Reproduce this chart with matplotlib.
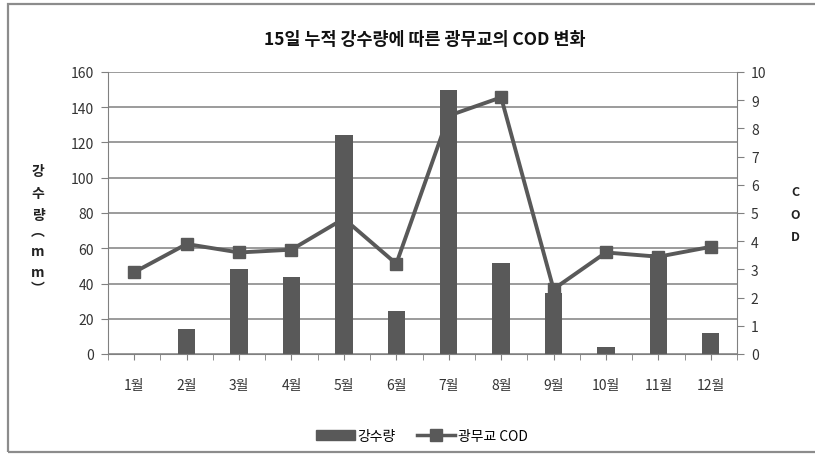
import matplotlib
matplotlib.use("Agg")
import matplotlib.pyplot as plt
from matplotlib.lines import Line2D
from matplotlib.patches import Rectangle
import numpy as np

plt.rcParams['font.family'] = ['Noto Sans CJK KR', 'DejaVu Sans']

months = ['1월', '2월', '3월', '4월', '5월', '6월', '7월', '8월', '9월', '10월', '11월', '12월']
rain = [0, 14, 48, 43.5, 124, 24.5, 150, 51.5, 34.5, 4, 57, 12]
cod = [2.9, 3.9, 3.6, 3.7, 4.8, 3.2, 8.45, 9.1, 2.3, 3.6, 3.45, 3.8]
left_ticks = [0, 20, 40, 60, 80, 100, 120, 140, 160]
right_ticks = list(range(0, 11))
title = '15일 누적 강수량에 따른 광무교의 COD 변화'

W, H = 815, 456
fig = plt.figure(figsize=(W / 100, H / 100), dpi=100)

# outer frame
fig.patches.append(Rectangle((8 / W, 3 / H), (W + 10) / W, (H - 8) / H, transform=fig.transFigure,
                             fill=False, edgecolor='#8c8c8c', linewidth=1.6))

ax = fig.add_axes([108 / W, 1 - 355 / H, (737 - 108) / W, (355 - 73) / H])
x = np.arange(len(months))
barcol = '#595959'
tickcol = '#333333'
ax.bar(x, rain, width=0.33, color=barcol, zorder=2)
ax.set_xlim(-0.5, len(months) - 0.5)
ax.set_ylim(0, 160)
ax.set_yticks(left_ticks)
ax.set_yticklabels([str(t) for t in left_ticks], fontsize=10, color=tickcol)
ax.yaxis.grid(True, color='#808080', linewidth=1.1, zorder=0)
ax.set_axisbelow(True)
for s in ['top', 'right']:
    ax.spines[s].set_visible(False)
ax.spines['left'].set_color('#808080')
ax.spines['bottom'].set_color('#808080')
ax.tick_params(axis='y', direction='out', length=5, color='#808080', pad=5)

# x ticks: both category centers and boundaries
ax.set_xticks(x)
ax.set_xticklabels(months, fontsize=10, color=tickcol)
ax.set_xticks(np.arange(-0.5, len(months), 1.0), minor=True)
ax.tick_params(axis='x', which='major', direction='out', length=4, color='#808080', pad=13)
ax.tick_params(axis='x', which='minor', direction='out', length=4, color='#808080')

ax2 = ax.twinx()
ax2.plot(x, cod, color=barcol, linewidth=2.8, marker='s', markersize=8.5, zorder=3)
ax2.set_ylim(0, 10)
ax2.set_yticks(right_ticks)
ax2.set_yticklabels([str(t) for t in right_ticks], fontsize=10, color=tickcol)
for s in ['top', 'left', 'bottom']:
    ax2.spines[s].set_visible(False)
ax2.spines['right'].set_color('#808080')
ax2.tick_params(axis='y', direction='out', length=5, color='#808080', pad=5)

fig.text(425 / W, 1 - 40 / H, title, ha='center', va='center', fontsize=12.5, fontweight='bold', color='#111111')

# left axis label (vertical stacked)
lbl = ['강', '수', '량', '︵', 'm', 'm', '︶']
ys = [172, 194, 216, 232, 252, 273, 289]
for ch, yy in zip(lbl, ys):
    fig.text(38 / W, 1 - yy / H, ch, ha='center', va='center', fontsize=10, fontweight='bold', color='#222222')

for ch, yy in zip(['C', 'O', 'D'], [193, 216, 238]):
    fig.text(795 / W, 1 - yy / H, ch, ha='center', va='center', fontsize=9, fontweight='bold', color='#222222')

handles = [Rectangle((0, 0), 1, 1, color=barcol),
           Line2D([0], [0], color=barcol, linewidth=2.5, marker='s', markersize=8)]
fig.legend(handles, ['강수량', '광무교 COD'], loc='center', bbox_to_anchor=(422 / W, 1 - 437 / H),
           ncol=2, frameon=False, fontsize=10, handlelength=2.8, columnspacing=1.5, handletextpad=0.2)

fig.savefig('out.png', dpi=100)
